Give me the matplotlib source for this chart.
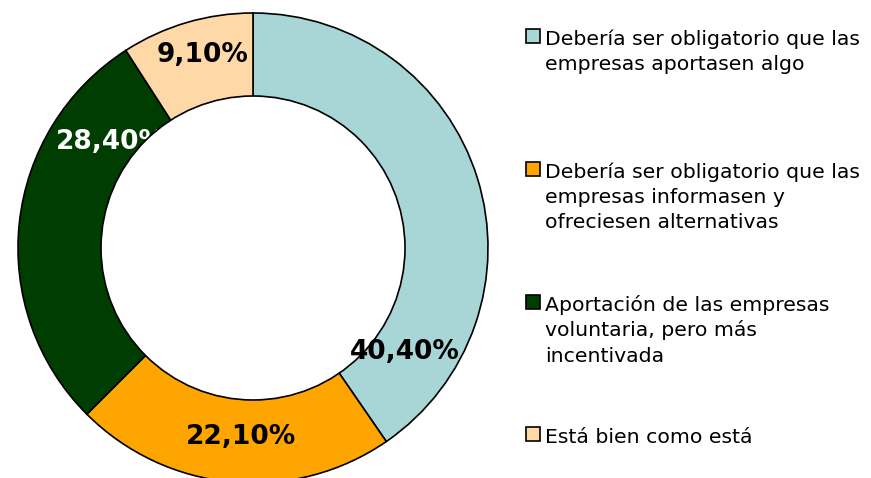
import matplotlib.pyplot as plt
from matplotlib.patches import Circle, Rectangle

# Data
labels = [
    "Debería ser obligatorio que las\nempresas aportasen algo",
    "Debería ser obligatorio que las\nempresas informasen y\nofreciesen alternativas",
    "Aportación de las empresas\nvoluntaria, pero más\nincentivada",
    "Está bien como está",
]
values = [40.4, 22.1, 28.4, 9.1]
value_labels = ["40,40%", "22,10%", "28,40%", "9,10%"]
colors = ["#A8D5D6", "#FFA500", "#003D00", "#FFD8A8"]
label_colors = ["black", "black", "white", "black"]

W, H = 871, 478
fig = plt.figure(figsize=(W / 100, H / 100), dpi=100)
ax = fig.add_axes([0, 0, 1, 1])

# donut geometry in pixel units
cx, cy = 253, H - 248
r_out, r_in = 235, 152

ax.pie(values, colors=colors, startangle=90, counterclock=False,
       radius=r_out, center=(cx, cy),
       wedgeprops=dict(edgecolor="black", linewidth=1.2))

# label offsets from centre (pixels) and alignment
label_offsets = [(152, -104, "center"), (-12, -189, "center"),
                 (-197, 106, "left"), (-50, 193, "center")]

fs = 19
# the dark-green label sits under the hole, so draw it before the hole
for i, (dx, dy, ha) in enumerate(label_offsets):
    z = 2 if i == 2 else 5
    ax.text(cx + dx, cy + dy, value_labels[i], ha=ha, va="center",
            fontsize=fs, fontweight="bold", color=label_colors[i], zorder=z)

ax.add_patch(Circle((cx, cy), r_in, facecolor="white", edgecolor="black",
                    linewidth=1.2, zorder=3))

# legend (marker centres, pixels from top)
item_y = [36, 168.5, 302, 434]
line_gap = 25.3
for i, lab in enumerate(labels):
    y = H - item_y[i]
    ax.add_patch(Rectangle((526, y - 7), 14, 14, facecolor=colors[i],
                           edgecolor="black", linewidth=1.2, zorder=4,
                           clip_on=False))
    for k, line in enumerate(lab.split("\n")):
        ax.text(545, y - 9 - k * line_gap, line, ha="left", va="baseline",
                fontsize=14.7, zorder=4)

ax.set_xlim(0, W)
ax.set_ylim(0, H)
ax.set_aspect("equal")
ax.axis("off")

fig.savefig("out.png", dpi=100)
